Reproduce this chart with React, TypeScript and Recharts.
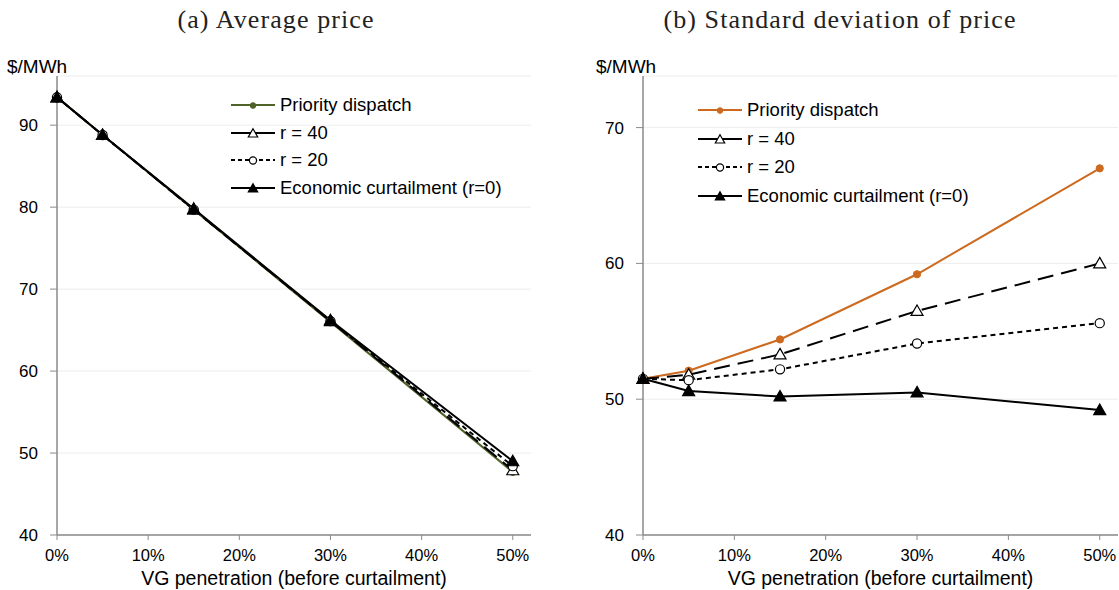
import React from "react";
import { CartesianGrid, Legend, Line, LineChart, XAxis, YAxis } from "recharts";

// VG penetration (% before curtailment)
const penetration = [0, 5, 15, 30, 50];

// (a) average price, $/MWh
const avgPriority = [93.4, 88.8, 79.7, 66.0, 47.7];
const avgR40 = [93.4, 88.8, 79.7, 66.1, 47.9];
const avgR20 = [93.4, 88.8, 79.7, 66.1, 48.4];
const avgEconomic = [93.4, 88.8, 79.8, 66.2, 49.0];

// (b) standard deviation of price, $/MWh
const sdPriority = [51.5, 52.1, 54.4, 59.2, 67.0];
const sdR40 = [51.5, 51.8, 53.3, 56.5, 60.0];
const sdR20 = [51.5, 51.4, 52.2, 54.1, 55.6];
const sdEconomic = [51.5, 50.6, 50.2, 50.5, 49.2];

const xTicks = [0, 10, 20, 30, 40, 50];
const avgTicks = [40, 50, 60, 70, 80, 90];
const sdTicks = [40, 50, 60, 70];

const seriesNames = ["Priority dispatch", "r = 40", "r = 20", "Economic curtailment (r=0)"];

const AXIS = "#8a8a8a";
const GRID = "#ededed";
const SANS = "'Liberation Sans', Arial, Helvetica, sans-serif";
const SERIF = "'Liberation Serif', 'Times New Roman', serif";

type Kind = "dot" | "openTri" | "openCircle" | "tri";

function Marker({
  cx,
  cy,
  kind,
  color,
  s = 1,
}: {
  cx: number;
  cy: number;
  kind: Kind;
  color: string;
  s?: number;
}) {
  if (cx == null || cy == null) return null;
  if (kind === "dot") return <circle cx={cx} cy={cy} r={3.6 * s} fill={color} stroke={color} />;
  if (kind === "openCircle")
    return <circle cx={cx} cy={cy} r={4.6 * s} fill="#fff" stroke="#000" strokeWidth={1.2} />;
  const d = `M${cx},${cy - 6 * s} L${cx + 6 * s},${cy + 4.5 * s} L${cx - 6 * s},${cy + 4.5 * s} Z`;
  return (
    <path d={d} fill={kind === "tri" ? "#000" : "#fff"} stroke="#000" strokeWidth={1.2} />
  );
}

const build = (a: number[], b: number[], c: number[], d: number[]) =>
  penetration.map((x, i) => ({ x, priority: a[i], r40: b[i], r20: c[i], econ: d[i] }));

const avgData = build(avgPriority, avgR40, avgR20, avgEconomic);
const sdData = build(sdPriority, sdR40, sdR20, sdEconomic);

function LegendBox({ priorityColor, rowH }: { priorityColor: string; rowH: number }) {
  const rows: { kind: Kind; color: string; dash?: string }[] = [
    { kind: "dot", color: priorityColor },
    { kind: "openTri", color: "#000" },
    { kind: "openCircle", color: "#000", dash: "4 3" },
    { kind: "tri", color: "#000" },
  ];
  return (
    <div style={{ fontFamily: SANS, fontSize: 18.5, color: "#000" }}>
      {rows.map((r, i) => (
        <div key={i} style={{ display: "flex", alignItems: "center", height: rowH }}>
          <svg width={46} height={14} style={{ marginRight: 4 }}>
            <line
              x1={1}
              y1={7}
              x2={45}
              y2={7}
              stroke={r.color}
              strokeWidth={2}
              strokeDasharray={r.dash}
            />
            <Marker cx={23} cy={7.5} kind={r.kind} color={r.color} s={0.78} />
          </svg>
          <span style={{ whiteSpace: "nowrap" }}>{seriesNames[i]}</span>
        </div>
      ))}
    </div>
  );
}

function Panel({
  data,
  width,
  yAxisWidth,
  rightMargin,
  domain,
  yTicks,
  priorityColor,
  legendPos,
}: {
  data: any[];
  width: number;
  yAxisWidth: number;
  rightMargin: number;
  domain: [number, number];
  yTicks: number[];
  priorityColor: string;
  legendPos: { left: number; top: number; rowH: number };
}) {
  const tick = { fill: "#000", fontSize: 16.5, fontFamily: SANS };
  const lines: { key: string; kind: Kind; color: string; dash?: string }[] = [
    { key: "priority", kind: "dot", color: priorityColor },
    { key: "r40", kind: "openTri", color: "#000", dash: "16 8" },
    { key: "r20", kind: "openCircle", color: "#000", dash: "5 4" },
    { key: "econ", kind: "tri", color: "#000" },
  ];
  return (
    <LineChart
      width={width}
      height={590}
      data={data}
      margin={{ top: 76, right: rightMargin, bottom: 10, left: 0 }}
    >
      <CartesianGrid vertical={false} stroke={GRID} />
      <XAxis
        dataKey="x"
        type="number"
        domain={[0, 52]}
        ticks={xTicks}
        tickFormatter={(v) => `${v}%`}
        height={45}
        tick={tick}
        tickSize={5}
        tickMargin={9}
        axisLine={{ stroke: AXIS, strokeWidth: 1.5 }}
        tickLine={{ stroke: AXIS }}
      />
      <YAxis
        type="number"
        domain={domain}
        ticks={yTicks}
        width={yAxisWidth}
        tick={{ ...tick, fontSize: 17 }}
        tickSize={7}
        tickMargin={12}
        axisLine={{ stroke: AXIS, strokeWidth: 1.5 }}
        tickLine={{ stroke: AXIS }}
        allowDataOverflow
      />
      <Legend
        layout="vertical"
        align="center"
        verticalAlign="middle"
        wrapperStyle={{ left: legendPos.left, top: legendPos.top, width: "auto" }}
        content={() => <LegendBox priorityColor={priorityColor} rowH={legendPos.rowH} />}
      />
      {lines.map((l) => (
        <Line
          key={l.key}
          dataKey={l.key}
          name={l.key}
          type="linear"
          stroke={l.color}
          strokeWidth={2}
          strokeDasharray={l.dash}
          isAnimationActive={false}
          dot={(p: any) => (
            <Marker key={`${l.key}-${p.index}`} cx={p.cx} cy={p.cy} kind={l.kind} color={l.color} />
          )}
          activeDot={false}
        />
      ))}
    </LineChart>
  );
}

const abs = (s: React.CSSProperties): React.CSSProperties => ({ position: "absolute", ...s });

export default function App() {
  return (
    <div style={abs({ left: 0, top: 0, width: 1119, height: 590, background: "#fff", overflow: "hidden" })}>
      <div
        style={abs({
          left: 76,
          width: 400,
          top: 5,
          textAlign: "center",
          fontFamily: SERIF,
          fontSize: 26,
          letterSpacing: 1.1,
          lineHeight: "30px",
          color: "#222",
        })}
      >
        (a) Average price
      </div>
      <div
        style={abs({
          left: 600,
          width: 480,
          top: 5,
          textAlign: "center",
          fontFamily: SERIF,
          fontSize: 26,
          letterSpacing: 1.1,
          lineHeight: "30px",
          color: "#222",
        })}
      >
        (b) Standard deviation of price
      </div>

      <div style={abs({ left: 0, top: 0 })}>
        <Panel
          data={avgData}
          width={545}
          yAxisWidth={57}
          rightMargin={14}
          domain={[40, 96]}
          yTicks={avgTicks}
          priorityColor="#4f6228"
          legendPos={{ left: 230, top: 91, rowH: 27.7 }}
        />
      </div>
      <div style={abs({ left: 560, top: 0 })}>
        <Panel
          data={sdData}
          width={559}
          yAxisWidth={83}
          rightMargin={1}
          domain={[40, 73.8]}
          yTicks={sdTicks}
          priorityColor="#cd6a1f"
          legendPos={{ left: 137, top: 96, rowH: 28.6 }}
        />
      </div>

      <div style={abs({ left: 7, top: 55, fontFamily: SANS, fontSize: 19, lineHeight: "24px" })}>$/MWh</div>
      <div style={abs({ left: 596, top: 55, fontFamily: SANS, fontSize: 19, lineHeight: "24px" })}>$/MWh</div>

      <div
        style={abs({ left: 57, width: 474, top: 565, textAlign: "center", fontFamily: SANS, fontSize: 19.5, lineHeight: "26px" })}
      >
        VG penetration (before curtailment)
      </div>
      <div
        style={abs({ left: 643, width: 475, top: 565, textAlign: "center", fontFamily: SANS, fontSize: 19.5, lineHeight: "26px" })}
      >
        VG penetration (before curtailment)
      </div>
    </div>
  );
}
